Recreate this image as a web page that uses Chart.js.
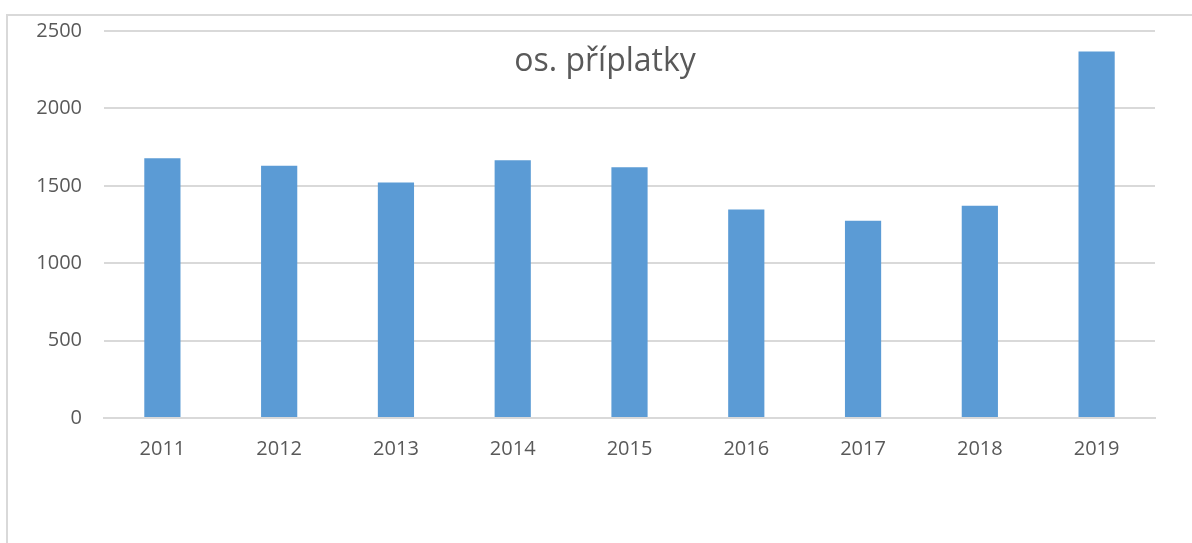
<!DOCTYPE html>
<html>
<head>
<meta charset="utf-8">
<script src="https://cdn.jsdelivr.net/npm/chart.js@4.4.1/dist/chart.umd.min.js"></script>
<style>
  html, body { margin: 0; padding: 0; background: #fff; overflow: hidden; }
  #frame {
    position: absolute; left: 6px; top: 14px;
    width: 1220px; height: 560px;
    border: 2px solid #d9d9d9; box-sizing: border-box;
  }
  #wrap { position: absolute; left: 0; top: 0; width: 1192px; height: 543px; }
</style>
</head>
<body>
<div id="frame"></div>
<div id="wrap"><canvas id="chart"></canvas></div>
<script>
const years = ["2011", "2012", "2013", "2014", "2015", "2016", "2017", "2018", "2019"];
const priplatky = [1678, 1629, 1521, 1665, 1620, 1347, 1274, 1371, 2368];
const yTicks = [0, 500, 1000, 1500, 2000, 2500];
const chartTitle = "os. příplatky";

const textColor = "#595959";
const gridColor = "#d9d9d9";

// title sits inside the plot, a bit left of centre like the original
const titleInside = {
  id: "titleInside",
  afterDraw(chart) {
    const { ctx, chartArea } = chart;
    ctx.save();
    ctx.font = "32px 'Open Sans'";
    ctx.fillStyle = textColor;
    ctx.textAlign = "center";
    ctx.textBaseline = "middle";
    ctx.fillText(chartTitle, chartArea.left + 501, chartArea.top + 31);
    ctx.restore();
  },
};

new Chart(document.getElementById("chart"), {
  type: "bar",
  data: {
    labels: years,
    datasets: [
      {
        label: chartTitle,
        data: priplatky,
        backgroundColor: "#5b9bd5",
        borderWidth: 0,
        categoryPercentage: 1,
        barPercentage: 0.31,
      },
    ],
  },
  options: {
    animation: false,
    responsive: true,
    maintainAspectRatio: false,
    layout: {
      padding: { left: 0, right: 37, top: 31, bottom: 0 },
    },
    plugins: {
      legend: { display: false },
      title: { display: false },
      tooltip: { enabled: false },
    },
    scales: {
      x: {
        grid: { display: false },
        border: { color: gridColor, width: 2 },
        ticks: {
          color: textColor,
          font: { family: "'Open Sans'", size: 20 },
          padding: 11,
          maxRotation: 0,
        },
        afterFit(scale) {
          scale.height = 125;
        },
      },
      y: {
        min: 0,
        max: 2500,
        afterBuildTicks(scale) {
          scale.ticks = yTicks.map((v) => ({ value: v }));
        },
        grid: {
          color: gridColor,
          lineWidth: 2,
          drawTicks: true,
          tickLength: 18,
          tickColor: "rgba(0,0,0,0)",
        },
        border: { display: false },
        ticks: {
          color: textColor,
          font: { family: "'Open Sans'", size: 20 },
          padding: 4,
          callback: (value) => String(value),
        },
        afterFit(scale) {
          scale.width = 104;
        },
      },
    },
  },
  plugins: [titleInside],
});
</script>
</body>
</html>
